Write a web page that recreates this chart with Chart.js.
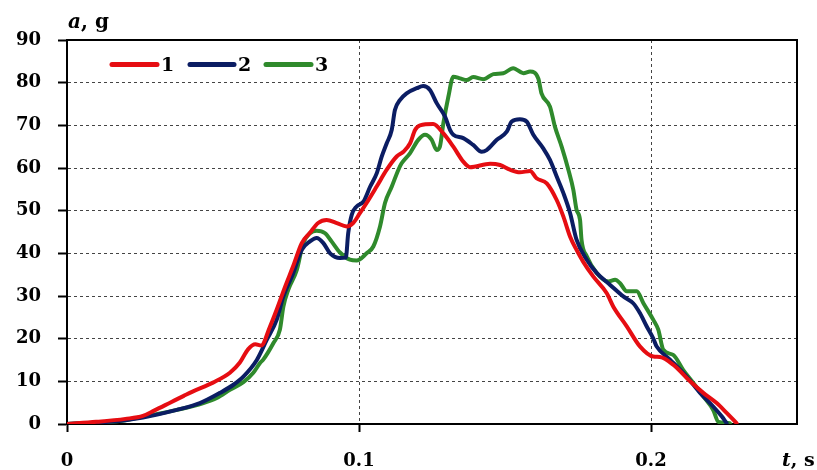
<!DOCTYPE html>
<html>
<head>
<meta charset="utf-8">
<script src="https://cdn.jsdelivr.net/npm/chart.js@4"></script>
<style>
    html, body { margin: 0; padding: 0; background: #fff; }
    #wrap { width: 817px; height: 470px; }
</style>
</head>
<body>
<div id="wrap"><canvas id="accelChart"></canvas></div>
<script>
// time, s
const t1 = [0, 0.010, 0.020, 0.026, 0.030, 0.0353, 0.040, 0.043, 0.050, 0.0558, 0.0592, 0.062, 0.0645, 0.0665, 0.0695, 0.0718, 0.0747, 0.0774, 0.0804, 0.0832, 0.086, 0.0889, 0.0924, 0.0958, 0.098, 0.1003, 0.1026, 0.106, 0.1095, 0.1129, 0.1152, 0.1175, 0.1192, 0.1209, 0.1254, 0.1289, 0.1323, 0.1357, 0.138, 0.1449, 0.1483, 0.1517, 0.1551, 0.1586, 0.1608, 0.1643, 0.1677, 0.170, 0.1723, 0.1745, 0.1768, 0.1802, 0.1848, 0.1871, 0.1917, 0.1962, 0.2008, 0.2031, 0.2076, 0.2134, 0.2179, 0.2225, 0.2259, 0.2293];
// acceleration, g
const a1 = [0, 0.5, 1.2, 1.9, 3.2, 5.0, 6.6, 7.6, 9.7, 12.0, 14.4, 17.5, 18.7, 18.4, 22.8, 26.8, 32.2, 36.9, 42.4, 44.8, 47.1, 47.8, 47.1, 46.3, 47.1, 49.4, 51.8, 55.6, 59.6, 62.7, 63.8, 65.8, 68.9, 70.0, 70.3, 68.1, 65.0, 61.5, 60.2, 61.0, 60.7, 59.6, 59.0, 59.3, 57.6, 56.4, 52.5, 48.6, 43.9, 40.8, 38.0, 34.6, 30.7, 27.5, 22.9, 18.2, 15.8, 15.7, 13.9, 10.0, 7.3, 4.9, 2.6, 0.2];

const t2 = [0, 0.010, 0.020, 0.026, 0.0376, 0.0455, 0.0524, 0.057, 0.0604, 0.065, 0.0684, 0.0718, 0.0741, 0.0775, 0.0804, 0.0832, 0.0855, 0.0878, 0.0901, 0.0935, 0.0955, 0.0963, 0.0975, 0.0992, 0.1015, 0.1038, 0.1061, 0.1078, 0.1095, 0.1112, 0.1123, 0.114, 0.1163, 0.1198, 0.122, 0.1243, 0.1266, 0.1295, 0.1312, 0.1323, 0.1357, 0.1391, 0.142, 0.1437, 0.1472, 0.1506, 0.1523, 0.1551, 0.1574, 0.1597, 0.1631, 0.1654, 0.1677, 0.170, 0.1723, 0.1745, 0.178, 0.1814, 0.186, 0.1905, 0.1939, 0.1962, 0.1985, 0.2008, 0.2019, 0.2065, 0.2122, 0.2168, 0.2213, 0.2242, 0.2259];
const a2 = [0, 0.3, 0.9, 1.5, 3.3, 4.9, 7.3, 9.2, 11.1, 15.0, 19.7, 24.4, 29.9, 35.4, 40.8, 42.8, 43.6, 42.4, 40.0, 38.9, 39.0, 44.7, 49.0, 51.0, 52.1, 55.6, 58.8, 62.7, 65.8, 68.9, 73.6, 75.9, 77.5, 78.7, 79.2, 78.3, 75.2, 72.0, 68.9, 67.8, 67.0, 65.4, 63.8, 64.2, 66.6, 68.5, 70.9, 71.4, 70.9, 67.8, 64.6, 61.9, 58.0, 54.1, 49.4, 43.2, 38.5, 35.4, 32.6, 29.9, 28.3, 26.0, 22.9, 20.0, 18.2, 15.1, 11.1, 7.3, 4.1, 1.8, 0.2];

const t3 = [0, 0.010, 0.020, 0.026, 0.0376, 0.0467, 0.0513, 0.0558, 0.0604, 0.0638, 0.0661, 0.0672, 0.0707, 0.0729, 0.0741, 0.0758, 0.0787, 0.0809, 0.0832, 0.0855, 0.0884, 0.0906, 0.0935, 0.0969, 0.0992, 0.1026, 0.1049, 0.1072, 0.1089, 0.1112, 0.1135, 0.1146, 0.1175, 0.1203, 0.1226, 0.1249, 0.1266, 0.1277, 0.1289, 0.1306, 0.1323, 0.1346, 0.1369, 0.1391, 0.1426, 0.146, 0.1494, 0.1528, 0.1563, 0.1586, 0.1614, 0.1625, 0.1654, 0.1671, 0.1694, 0.1717, 0.1734, 0.1745, 0.1757, 0.1762, 0.178, 0.1814, 0.1854, 0.1877, 0.1894, 0.1917, 0.1951, 0.1974, 0.2008, 0.2025, 0.2042, 0.2076, 0.211, 0.2145, 0.2179, 0.2213, 0.2231, 0.227];
const a3 = [0, 0.3, 0.9, 1.7, 3.3, 4.9, 6.1, 8.0, 9.8, 12.0, 14.3, 15.1, 19.0, 22.1, 27.5, 31.5, 36.1, 42.4, 44.7, 45.3, 44.7, 42.8, 40.2, 38.5, 38.3, 40.0, 41.6, 46.3, 51.8, 55.6, 59.6, 61.1, 63.5, 66.6, 67.8, 66.6, 64.2, 65.0, 70.5, 76.7, 81.4, 81.0, 80.6, 81.3, 80.8, 82.0, 82.2, 83.4, 82.2, 82.6, 81.0, 77.5, 74.4, 69.7, 65.0, 59.6, 54.9, 50.2, 47.8, 43.2, 39.3, 35.4, 33.4, 33.8, 33.0, 31.1, 31.1, 28.3, 24.4, 22.1, 17.4, 16.2, 12.7, 9.6, 6.5, 3.3, 0.5, 0.2];

const seriesLabels = ["1", "2", "3"];
const xTicks = [0, 0.1, 0.2];
const yTicks = [0, 10, 20, 30, 40, 50, 60, 70, 80, 90];

const COLORS = {
    red: "#e60d12",
    navy: "#0b1d63",
    green: "#2f8a2c",
};

const FONT = "'DejaVu Serif', serif";

const toPoints = (ts, as) => ts.map((t, i) => ({ x: t, y: as[i] }));

function series(label, ts, as, color) {
    return {
        label: label,
        data: toPoints(ts, as),
        borderColor: color,
        backgroundColor: color,
        borderWidth: 4,
        pointRadius: 0,
        cubicInterpolationMode: "monotone",
        borderCapStyle: "round",
        borderJoinStyle: "round",
    };
}

/*
| Frame, axis captions and the inline legend
*/
const decorations = {
    id: "decorations",

    afterDraw(chart) {
        const { ctx, chartArea } = chart;

        ctx.save();

        // top and right frame
        ctx.strokeStyle = "#000";
        ctx.lineWidth = 2;
        ctx.beginPath();
        ctx.moveTo(chartArea.left, chartArea.top);
        ctx.lineTo(chartArea.right, chartArea.top);
        ctx.lineTo(chartArea.right, chartArea.bottom);
        ctx.stroke();

        ctx.fillStyle = "#000";
        ctx.textBaseline = "alphabetic";
        ctx.textAlign = "left";

        // y caption: a, g
        let x = 68;
        ctx.font = "italic bold 20px " + FONT;
        ctx.fillText("a", x, 28);
        x += ctx.measureText("a").width;
        ctx.font = "bold 20px " + FONT;
        ctx.fillText(", g", x, 28);

        // x caption: t, s
        x = 782;
        ctx.font = "italic bold 19px " + FONT;
        ctx.fillText("t", x, 466);
        x += ctx.measureText("t").width;
        ctx.font = "bold 19px " + FONT;
        ctx.fillText(", s", x, 466);

        // legend
        const items = [
            { x0: 112, x1: 157, tx: 161 },
            { x0: 190, x1: 234, tx: 238 },
            { x0: 266, x1: 311, tx: 315 },
        ];

        ctx.lineCap = "round";
        ctx.lineWidth = 5;
        ctx.font = "bold 19px " + FONT;

        chart.data.datasets.forEach((ds, i) => {
            const it = items[i];
            ctx.strokeStyle = ds.borderColor;
            ctx.beginPath();
            ctx.moveTo(it.x0, 64.5);
            ctx.lineTo(it.x1, 64.5);
            ctx.stroke();
            ctx.fillText(ds.label, it.tx, 71);
        });

        ctx.restore();
    },
};

new Chart(document.getElementById("accelChart"), {
    type: "line",

    data: {
        datasets: [
            series(seriesLabels[0], t1, a1, COLORS.red),
            series(seriesLabels[1], t2, a2, COLORS.navy),
            series(seriesLabels[2], t3, a3, COLORS.green),
        ],
    },

    options: {
        responsive: true,
        maintainAspectRatio: false,
        animation: false,
        events: [],

        layout: {
            padding: { top: 40, right: 20, left: 0, bottom: 0 },
        },

        plugins: {
            legend: { display: false },
            tooltip: { enabled: false },
        },

        scales: {
            x: {
                type: "linear",
                min: 0,
                max: 0.25,
                afterFit: (s) => { s.height = 46; },
                afterBuildTicks: (s) => {
                    s.ticks = xTicks.map((v) => ({ value: v }));
                },
                ticks: {
                    color: "#000",
                    font: { family: FONT, size: 18, weight: "bold" },
                    padding: 19,
                    maxRotation: 0,
                    callback: (v) => String(v),
                },
                grid: {
                    color: "#444",
                    lineWidth: 1,
                    tickLength: 8,
                    tickColor: "#000",
                    tickWidth: 2,
                },
                border: {
                    display: true,
                    color: "#000",
                    width: 2,
                    dash: [3, 3],
                },
            },

            y: {
                min: 0,
                max: 90,
                afterFit: (s) => { s.width = 67; },
                afterBuildTicks: (s) => {
                    s.ticks = yTicks.map((v) => ({ value: v }));
                },
                ticks: {
                    color: "#000",
                    font: { family: FONT, size: 18, weight: "bold" },
                    padding: 17,
                },
                grid: {
                    color: "#444",
                    lineWidth: 1,
                    tickLength: 9,
                    tickColor: "#000",
                    tickWidth: 2,
                },
                border: {
                    display: true,
                    color: "#000",
                    width: 2,
                    dash: [3, 3],
                },
            },
        },
    },

    plugins: [decorations],
});
</script>
</body>
</html>
